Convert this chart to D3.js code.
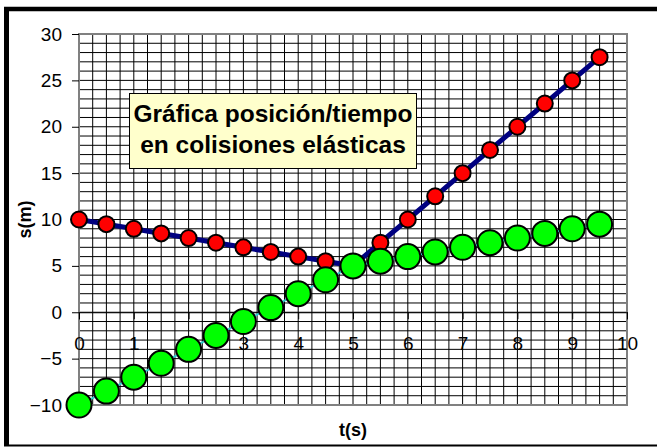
<!DOCTYPE html>
<html>
<head>
<meta charset="utf-8">
<script src="https://cdn.jsdelivr.net/npm/d3@7"></script>
<style>
html,body{margin:0;padding:0;background:#fff;}
svg{display:block;}
text{font-family:"Liberation Sans",Arial,sans-serif;}
</style>
</head>
<body>
<svg id="chart" width="657" height="447"></svg>
<script>
// Data
const times = [0,0.5,1,1.5,2,2.5,3,3.5,4,4.5,5,5.5,6,6.5,7,7.5,8,8.5,9,9.5];
const redPositions = [10,9.5,9,8.5,8,7.5,7,6.5,6,5.5,5,7.5,10,12.5,15,17.5,20,22.5,25,27.5];
const greenPositions = [-10,-8.5,-7,-5.5,-4,-2.5,-1,0.5,2,3.5,5,5.5,6,6.5,7,7.5,8,8.5,9,9.5];
const xTicks = [0,1,2,3,4,5,6,7,8,9,10];
const yTicks = [-10,-5,0,5,10,15,20,25,30];
const titleLines = ["Gráfica posición/tiempo","en colisiones elásticas"];
const xTitle = "t(s)";
const yTitle = "s(m)";

const svg = d3.select("#chart");
const W = 657, H = 447;
const pL = 79, pR = 627, pT = 34, pB = 405;

const x = d3.scaleLinear().domain([0,10]).range([pL,pR]);
const y = d3.scaleLinear().domain([-10,30]).range([pB,pT]);

svg.append("rect").attr("width",W).attr("height",H).attr("fill","#fff");

// outer frame
svg.append("line").attr("x1",6.5).attr("x2",6.5).attr("y1",7).attr("y2",446).attr("stroke","#000").attr("stroke-width",5);
svg.append("line").attr("x1",4).attr("x2",W).attr("y1",9).attr("y2",9).attr("stroke","#000").attr("stroke-width",4.5);
svg.append("line").attr("x1",4).attr("x2",W).attr("y1",445.5).attr("y2",445.5).attr("stroke","#000").attr("stroke-width",2);

// gridlines
const grid = svg.append("g");
const hVals = d3.range(-10,31,1);
const vVals = d3.range(0,10.001,0.25);
grid.selectAll(".h").data(hVals).enter().append("line")
  .attr("x1",pL).attr("x2",pR).attr("y1",d=>y(d)).attr("y2",d=>y(d))
  .attr("stroke","#000").attr("stroke-width",1);
grid.selectAll(".v").data(vVals).enter().append("line")
  .attr("y1",pT).attr("y2",pB).attr("x1",d=>x(d)).attr("x2",d=>x(d))
  .attr("stroke","#000").attr("stroke-width",1);
svg.append("rect").attr("x",pL).attr("y",pT).attr("width",pR-pL).attr("height",pB-pT)
  .attr("fill","none").attr("stroke","#808080").attr("stroke-width",2);

// y axis
const yAxis = svg.append("g").attr("transform",`translate(${pL},0)`)
  .call(d3.axisLeft(y).tickValues(yTicks).tickSize(7).tickPadding(10).tickFormat(d3.format("d")));
yAxis.select(".domain").remove();
yAxis.selectAll("line").attr("stroke","#000");
yAxis.selectAll("text").attr("font-size",19).attr("fill","#000").attr("font-family","Liberation Sans, Arial, sans-serif");

// x axis at y=0
const xAxis = svg.append("g").attr("transform",`translate(0,${y(0)})`)
  .call(d3.axisBottom(x).tickValues(xTicks).tickSize(7).tickPadding(17).tickFormat(d3.format("d")));
xAxis.select(".domain").attr("stroke","#000");
xAxis.selectAll("line").attr("stroke","#000");
xAxis.selectAll("text").attr("font-size",19).attr("fill","#000").attr("font-family","Liberation Sans, Arial, sans-serif");

// axis titles
svg.append("text").attr("x",x(5)).attr("y",436).attr("text-anchor","middle")
  .attr("font-size",18).attr("font-weight","bold").text(xTitle);
svg.append("text").attr("transform",`translate(31,${(pT+pB)/2}) rotate(-90)`).attr("text-anchor","middle")
  .attr("font-size",18).attr("font-weight","bold").text(yTitle);

// title box
svg.append("rect").attr("x",129.5).attr("y",93.5).attr("width",287).attr("height",75)
  .attr("fill","#FFFFCC").attr("stroke","#000").attr("stroke-width",1);
svg.selectAll(".tl").data(titleLines).enter().append("text")
  .attr("x",273).attr("y",(d,i)=>122+i*31).attr("text-anchor","middle")
  .attr("font-size",24.5).attr("font-weight","bold").attr("fill","#000").text(d=>d);

// series
const redData = times.map((t,i)=>({t,s:redPositions[i]}));
const greenData = times.map((t,i)=>({t,s:greenPositions[i]}));
const line = d3.line().x(d=>x(d.t)).y(d=>y(d.s));

svg.append("path").datum(redData).attr("d",line).attr("fill","none").attr("stroke","#000080").attr("stroke-width",5);
svg.selectAll(".rm").data(redData).enter().append("circle")
  .attr("cx",d=>x(d.t)).attr("cy",d=>y(d.s)).attr("r",8)
  .attr("fill","#FF0000").attr("stroke","#000").attr("stroke-width",2);

svg.append("path").datum(greenData).attr("d",line).attr("fill","none").attr("stroke","#33CCCC").attr("stroke-width",2);
svg.selectAll(".gm").data(greenData).enter().append("circle")
  .attr("cx",d=>x(d.t)).attr("cy",d=>y(d.s)).attr("r",12.5)
  .attr("fill","#00FF00").attr("stroke","#000").attr("stroke-width",2);
</script>
</body>
</html>
